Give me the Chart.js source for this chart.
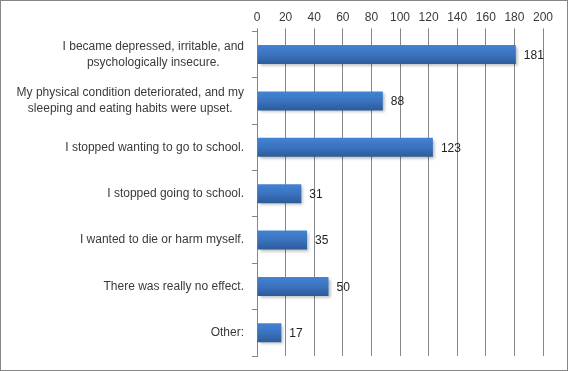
<!DOCTYPE html>
<html>
<head>
<meta charset="utf-8">
<script src="https://cdn.jsdelivr.net/npm/chart.js@4/dist/chart.umd.min.js"></script>
<style>
    html, body { margin: 0; padding: 0; background: #fff; }
    #wrap { width: 568px; height: 371px; position: relative; }
</style>
</head>
<body>
<div id="wrap"><canvas id="effectsChart"></canvas></div>
<script>
// Données du graphique
const categories = [
    ['I became depressed, irritable, and', 'psychologically insecure.'],
    ['My physical condition deteriorated, and my', 'sleeping and eating habits were upset.'],
    'I stopped wanting to go to school.',
    'I stopped going to school.',
    'I wanted to die or harm myself.',
    'There was really no effect.',
    'Other:'
];
const responses = [181, 88, 123, 31, 35, 50, 17];
const axisMin = 0;
const axisMax = 200;
const axisStep = 20;

const textColor = '#3a3a3a';
const gridColor = '#868686';
const fontFamily = '"Liberation Sans", Arial, sans-serif';
const labelFont = '12px ' + fontFamily;

// Dégradé vertical pour chaque barre
function barGradient(context) {
    const chart = context.chart;
    if (!chart.chartArea || !chart.scales.y) return '#3a72bb';
    const yScale = chart.scales.y;
    const center = yScale.getPixelForValue(context.dataIndex);
    const half = yScale.getPixelForValue(1) - yScale.getPixelForValue(0);
    const h = Math.abs(half) * 0.41 / 2;
    const g = chart.ctx.createLinearGradient(0, center - h, 0, center + h);
    g.addColorStop(0, '#4383d3');
    g.addColorStop(0.5, '#3a73bf');
    g.addColorStop(1, '#2c5b98');
    return g;
}

// Cadre, ombre, étiquettes de catégories et valeurs
const decorations = {
    id: 'decorations',
    beforeDatasetsDraw(chart) {
        const ctx = chart.ctx;
        ctx.save();
        ctx.shadowColor = 'rgba(0,0,0,0.28)';
        ctx.shadowBlur = 3;
        ctx.shadowOffsetX = 2;
        ctx.shadowOffsetY = 2;
    },
    afterDatasetsDraw(chart) {
        const ctx = chart.ctx;
        ctx.restore();

        const yScale = chart.scales.y;
        const meta = chart.getDatasetMeta(0);
        const right = chart.chartArea.left - 13;

        ctx.save();
        ctx.font = labelFont;
        ctx.fillStyle = textColor;
        ctx.textBaseline = 'middle';

        // étiquettes de catégories : bloc aligné à droite, lignes centrées
        categories.forEach(function(label, i) {
            const lines = Array.isArray(label) ? label : [label];
            const widths = lines.map(l => ctx.measureText(l).width);
            const blockW = Math.max.apply(null, widths);
            const cx = right - blockW / 2;
            const y = yScale.getPixelForTick(i);
            const lh = 16;
            ctx.textAlign = 'center';
            lines.forEach(function(line, j) {
                ctx.fillText(line, cx, y + (j - (lines.length - 1) / 2) * lh);
            });
        });

        // valeurs à droite des barres
        ctx.textAlign = 'left';
        ctx.fillStyle = '#222';
        meta.data.forEach(function(bar, i) {
            ctx.fillText(String(responses[i]), bar.x + 8, bar.y + 1);
        });
        ctx.restore();
    },
    afterDraw(chart) {
        const ctx = chart.ctx;
        ctx.save();
        ctx.strokeStyle = gridColor;
        ctx.lineWidth = 1;
        ctx.strokeRect(0.5, 0.5, chart.width - 1, chart.height - 1);
        ctx.restore();
    }
};

const config = {
    type: 'bar',
    data: {
        labels: categories,
        datasets: [{
            data: responses,
            backgroundColor: barGradient,
            borderWidth: 0,
            categoryPercentage: 1,
            barPercentage: 0.41
        }]
    },
    options: {
        indexAxis: 'y',
        responsive: true,
        maintainAspectRatio: false,
        animation: false,
        layout: {
            padding: { left: 252, right: 25, top: 6, bottom: 15 }
        },
        plugins: {
            legend: { display: false },
            tooltip: { enabled: false }
        },
        scales: {
            x: {
                position: 'top',
                min: axisMin,
                max: axisMax,
                ticks: {
                    stepSize: axisStep,
                    color: textColor,
                    font: { family: fontFamily, size: 12 },
                    padding: 4
                },
                grid: {
                    color: gridColor,
                    tickLength: 3,
                    lineWidth: 1
                },
                border: { display: false }
            },
            y: {
                ticks: { display: false },
                grid: {
                    offset: true,
                    drawOnChartArea: false,
                    drawTicks: true,
                    tickLength: 5,
                    color: gridColor
                },
                border: { display: true, color: gridColor }
            }
        }
    },
    plugins: [decorations]
};

document.addEventListener('DOMContentLoaded', function() {
    new Chart(document.getElementById('effectsChart'), config);
});
</script>
</body>
</html>
